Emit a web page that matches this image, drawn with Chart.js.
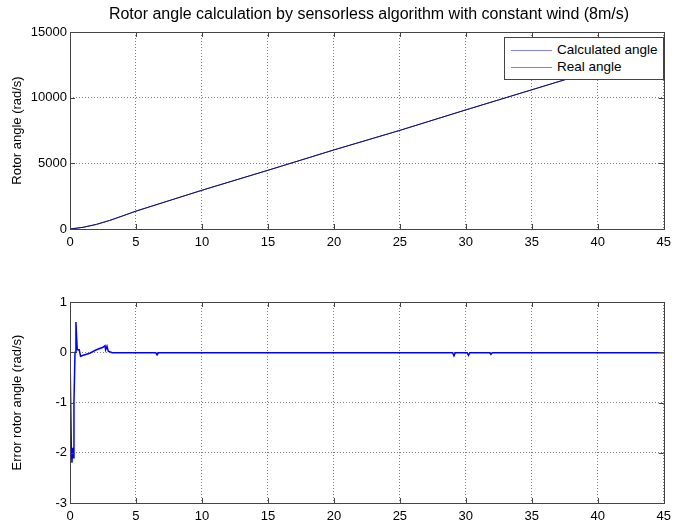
<!DOCTYPE html>
<html>
<head>
<meta charset="utf-8">
<script src="https://cdn.jsdelivr.net/npm/chart.js@4.4.1/dist/chart.umd.min.js"></script>
<style>
  body { margin: 0; background: #fff; font-family: "Liberation Sans", Arial, sans-serif; }
  #wrap { position: relative; width: 677px; height: 525px; }
  .box { position: absolute; left: 0; width: 677px; }
  #title { position: absolute; top: 5px; left: 40px; width: 658px; text-align: center; font-size: 16px; color: #000; white-space: nowrap; }
  #legend { position: absolute; left: 504px; top: 37px; width: 158px; height: 41px; background: #fff;
            border: 1px solid #444; font-size: 13.5px; color: #000; }
  #legend div { position: absolute; left: 52px; }
  #legend span { position: absolute; left: 6px; width: 41px; height: 1px; top: 8px; }
</style>
</head>
<body>
<div id="wrap">
  <div class="box" style="top:0;height:265px"><canvas id="top"></canvas></div>
  <div class="box" style="top:265px;height:260px"><canvas id="bottom"></canvas></div>
  <div id="title">Rotor angle calculation by sensorless algorithm with constant wind (8m/s)</div>
  <div id="legend">
    <div style="top:4px"><span style="background:#8080ff;left:-46px"></span>Calculated angle</div>
    <div style="top:21px"><span style="background:#888;left:-46px"></span>Real angle</div>
  </div>
</div>
<script>
// time in seconds
const timeAngle = [0, 1, 2, 3, 4, 5, 10, 15, 20, 25, 30, 35, 40, 45];
const calcAngle = [0, 130, 350, 650, 1000, 1360, 2950, 4470, 6020, 7510, 9070, 10600, 12130, 13650];
const realAngle = [0, 130, 350, 650, 1000, 1360, 2950, 4470, 6020, 7510, 9070, 10600, 12130, 13650];

const timeErr = [0, 0.1, 0.15, 0.2, 0.25, 0.3, 0.38, 0.45, 0.5, 0.55, 0.7, 0.8, 1.0, 1.5, 2.0, 2.5, 2.65, 2.7, 2.8, 2.9, 3.2,
                 6.5, 6.6, 6.7, 15, 29.0, 29.1, 29.2, 30.1, 30.2, 30.3, 31.8, 31.9, 32.0, 45];
const errAngle = [0, -1.9, -2.2, -1.9, -2.1, -1.0, 0.0, 0.6, 0.3, 0.05, 0.05, -0.08, -0.06, -0.02, 0.05, 0.1, 0.13, 0.05, 0.12, 0.02, -0.01,
                  -0.01, -0.05, -0.01, -0.01, -0.01, -0.07, -0.01, -0.01, -0.06, -0.01, -0.01, -0.04, -0.01, -0.01];

const xTicks = [0, 5, 10, 15, 20, 25, 30, 35, 40, 45];

const font = { family: "'Liberation Sans', Arial, sans-serif", size: 13 };

function pts(xs, ys) {
  return xs.map((x, i) => ({ x: x, y: ys[i] }));
}

// box around plot area plus inward tick marks, matlab style
const boxPlugin = {
  id: 'box',
  afterDraw(chart) {
    const { ctx, chartArea: a, scales } = chart;
    ctx.save();
    ctx.strokeStyle = '#444';
    ctx.lineWidth = 1;
    ctx.strokeRect(Math.round(a.left) + 0.5, Math.round(a.top) + 0.5,
                   Math.round(a.right - a.left), Math.round(a.bottom - a.top));
    ctx.beginPath();
    scales.x.ticks.forEach(t => {
      const px = Math.round(scales.x.getPixelForValue(t.value)) + 0.5;
      ctx.moveTo(px, a.bottom); ctx.lineTo(px, a.bottom - 5);
      ctx.moveTo(px, a.top); ctx.lineTo(px, a.top + 5);
    });
    scales.y.ticks.forEach(t => {
      const py = Math.round(scales.y.getPixelForValue(t.value)) + 0.5;
      ctx.moveTo(a.left, py); ctx.lineTo(a.left + 5, py);
      ctx.moveTo(a.right, py); ctx.lineTo(a.right - 5, py);
    });
    ctx.stroke();
    ctx.restore();
  }
};

function makeChart(id, datasets, yMin, yMax, yStep, yTitle, topPad, bottomPad) {
  return new Chart(document.getElementById(id), {
    type: 'scatter',
    data: { datasets: datasets },
    options: {
      responsive: true,
      maintainAspectRatio: false,
      animation: false,
      layout: { padding: { left: 0, right: 9, top: topPad, bottom: bottomPad } },
      plugins: { legend: { display: false }, tooltip: { enabled: false } },
      scales: {
        x: {
          type: 'linear', min: 0, max: 45,
          afterBuildTicks(s) { s.ticks = xTicks.map(v => ({ value: v })); },
          afterFit(s) { s.height = 26; },
          grid: { color: 'rgba(0,0,0,0.5)', drawTicks: false },
          border: { display: false, dash: [1, 2] },
          ticks: { color: '#000', font: font, padding: 6, maxRotation: 0, callback: v => String(v) }
        },
        y: {
          type: 'linear', min: yMin, max: yMax,
          afterFit(s) { s.width = 70; },
          grid: { color: 'rgba(0,0,0,0.5)', drawTicks: false },
          border: { display: false, dash: [1, 2] },
          ticks: { color: '#000', font: font, stepSize: yStep, padding: 3, callback: v => String(v) },
          title: { display: true, text: yTitle, color: '#000', font: font, padding: { top: 10, bottom: 0 } }
        }
      }
    },
    plugins: [boxPlugin]
  });
}

makeChart('top', [
  { label: 'Calculated angle', data: pts(timeAngle, calcAngle), showLine: true, borderColor: '#0000ff',
    borderWidth: 1, pointRadius: 0, order: 2 },
  { label: 'Real angle', data: pts(timeAngle, realAngle), showLine: true, borderColor: 'rgba(30,30,30,0.75)',
    borderWidth: 1, pointRadius: 0, order: 1 }
], 0, 15000, 5000, 'Rotor angle (rad/s)', 32, 10);

makeChart('bottom', [
  { label: 'Error rotor angle', data: pts(timeErr, errAngle), showLine: true, borderColor: '#0000ff',
    borderWidth: 1.5, pointRadius: 0 }
], -3, 1, 1, 'Error rotor angle (rad/s)', 37, -4);
</script>
</body>
</html>
